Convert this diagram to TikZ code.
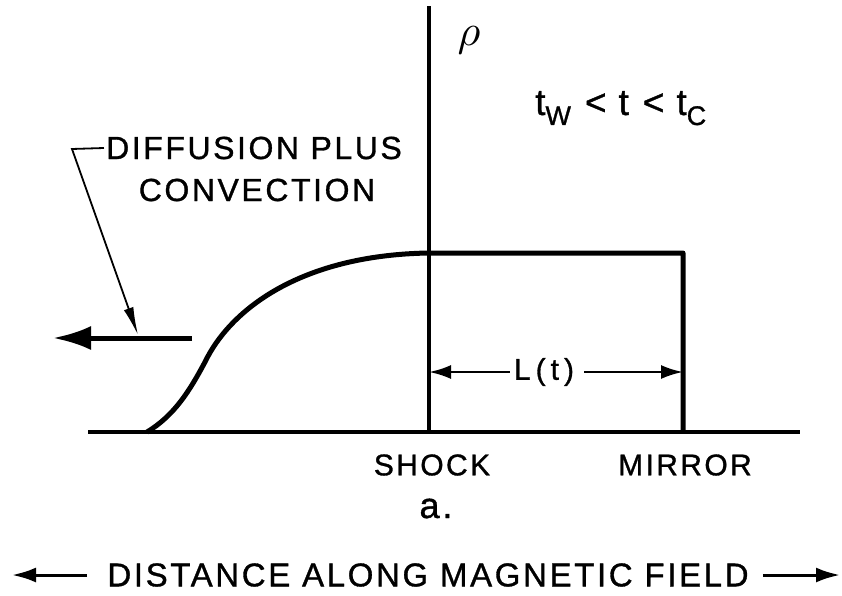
\documentclass[tikz,border=0pt]{standalone}
\usepackage{fontspec}
\newfontfamily\lettering[LetterSpace=8, FakeBold=1]{Liberation Sans}
\usepackage{tikz}
\usetikzlibrary{arrows.meta, positioning, calc}

\begin{document}
\begin{tikzpicture}[x=1pt, y=-1pt]
    % Styles
    \tikzstyle{lbl} = [font=\lettering\fontsize{30}{34}\selectfont, inner sep=0pt]
    \tikzstyle{notelbl} = [font=\lettering\fontsize{32}{36}\selectfont, inner sep=0pt]
    \tikzstyle{biglbl} = [font=\lettering\fontsize{33}{36}\selectfont, inner sep=0pt]
    \tikzstyle{axisline} = [draw, line width=3.2pt]
    \tikzstyle{profile} = [draw, line width=5pt, line join=round]
    \tikzstyle{flow} = [draw, line width=5pt, -{Latex[length=38pt, width=24pt]}]
    \tikzstyle{dimline} = [draw, line width=2.6pt, -{Latex[length=22pt, width=14pt]}]
    \tikzstyle{leader} = [draw, line width=1.8pt, -{Latex[length=28pt, width=10pt]}]
    \tikzstyle{fieldarrow} = [draw, line width=3pt, -{Latex[length=24pt, width=15pt]}]

    \useasboundingbox (0,0) rectangle (842,596);

    % --- AXES ---
    \coordinate (origin) at (88,432);
    \coordinate (xend) at (800,432);
    \coordinate (shocktop) at (429,6);
    \coordinate (shockbot) at (429,432);
    \coordinate (plateau) at (429,253);
    \coordinate (mirrortop) at (683,253);
    \coordinate (mirrorbot) at (683,432);
    \coordinate (front) at (147,432);

    \path [axisline] (origin) -- (xend);
    \path [axisline] (shockbot) -- (shocktop);

    % --- DENSITY PROFILE ---
    \path [profile] (front) .. controls (175,415) and (190,390) .. (205,362)
        .. controls (230,310) and (300,255) .. (plateau) -- (mirrortop) -- (mirrorbot);

    % --- LABELS ---
    \node [scale=4.4, inner sep=0pt] (rho) at (469,40) {$\rho$};
    \node [font=\lettering\fontsize{37}{37}\selectfont, inner sep=0pt, anchor=base west] (cond) at (535,115)
        {t\raisebox{-10pt}{\fontsize{27}{27}\selectfont W}\hspace{14pt}<\hspace{12pt}t\hspace{14pt}<\hspace{12pt}t\raisebox{-10pt}{\fontsize{27}{27}\selectfont C}};
    \node [notelbl] (diff) at (254,148) {DIFFUSION PLUS};
    \node [notelbl] (conv) at (257,190) {CONVECTION};
    \node [lbl] (Lt) at (544,372) {L\,(\,t\,)};
    \node [lbl] (shock) at (432,465) {SHOCK};
    \node [lbl] (mirror) at (685,465) {MIRROR};
    \node [font=\lettering\fontsize{36}{36}\selectfont, inner sep=0pt, anchor=base] (panel) at (436,518) {a.};
    \node [biglbl] (dist) at (428,575) {DISTANCE ALONG MAGNETIC FIELD};

    % --- ARROWS ---
    \coordinate (flowstart) at (192,338);
    \coordinate (flowtip) at (53,338);
    \coordinate (leadbend) at (72,149);
    \coordinate (leadtip) at (138,335);
    \coordinate (distleft) at (12,575);
    \coordinate (distright) at (840,575);

    \path [flow] (flowstart) -- (flowtip);
    \path [leader] ([xshift=-2pt]diff.west) -- (leadbend) -- (leadtip);
    \path [dimline] ([xshift=-4pt]Lt.west) -- (Lt.west -| shockbot);
    \path [dimline] ([xshift=10pt]Lt.east) -- (Lt.east -| mirrorbot);
    \path [fieldarrow] ([xshift=-20pt]dist.west) -- (dist.west -| distleft);
    \path [fieldarrow] ([xshift=14pt]dist.east) -- (dist.east -| distright);

\end{tikzpicture}
\end{document}
